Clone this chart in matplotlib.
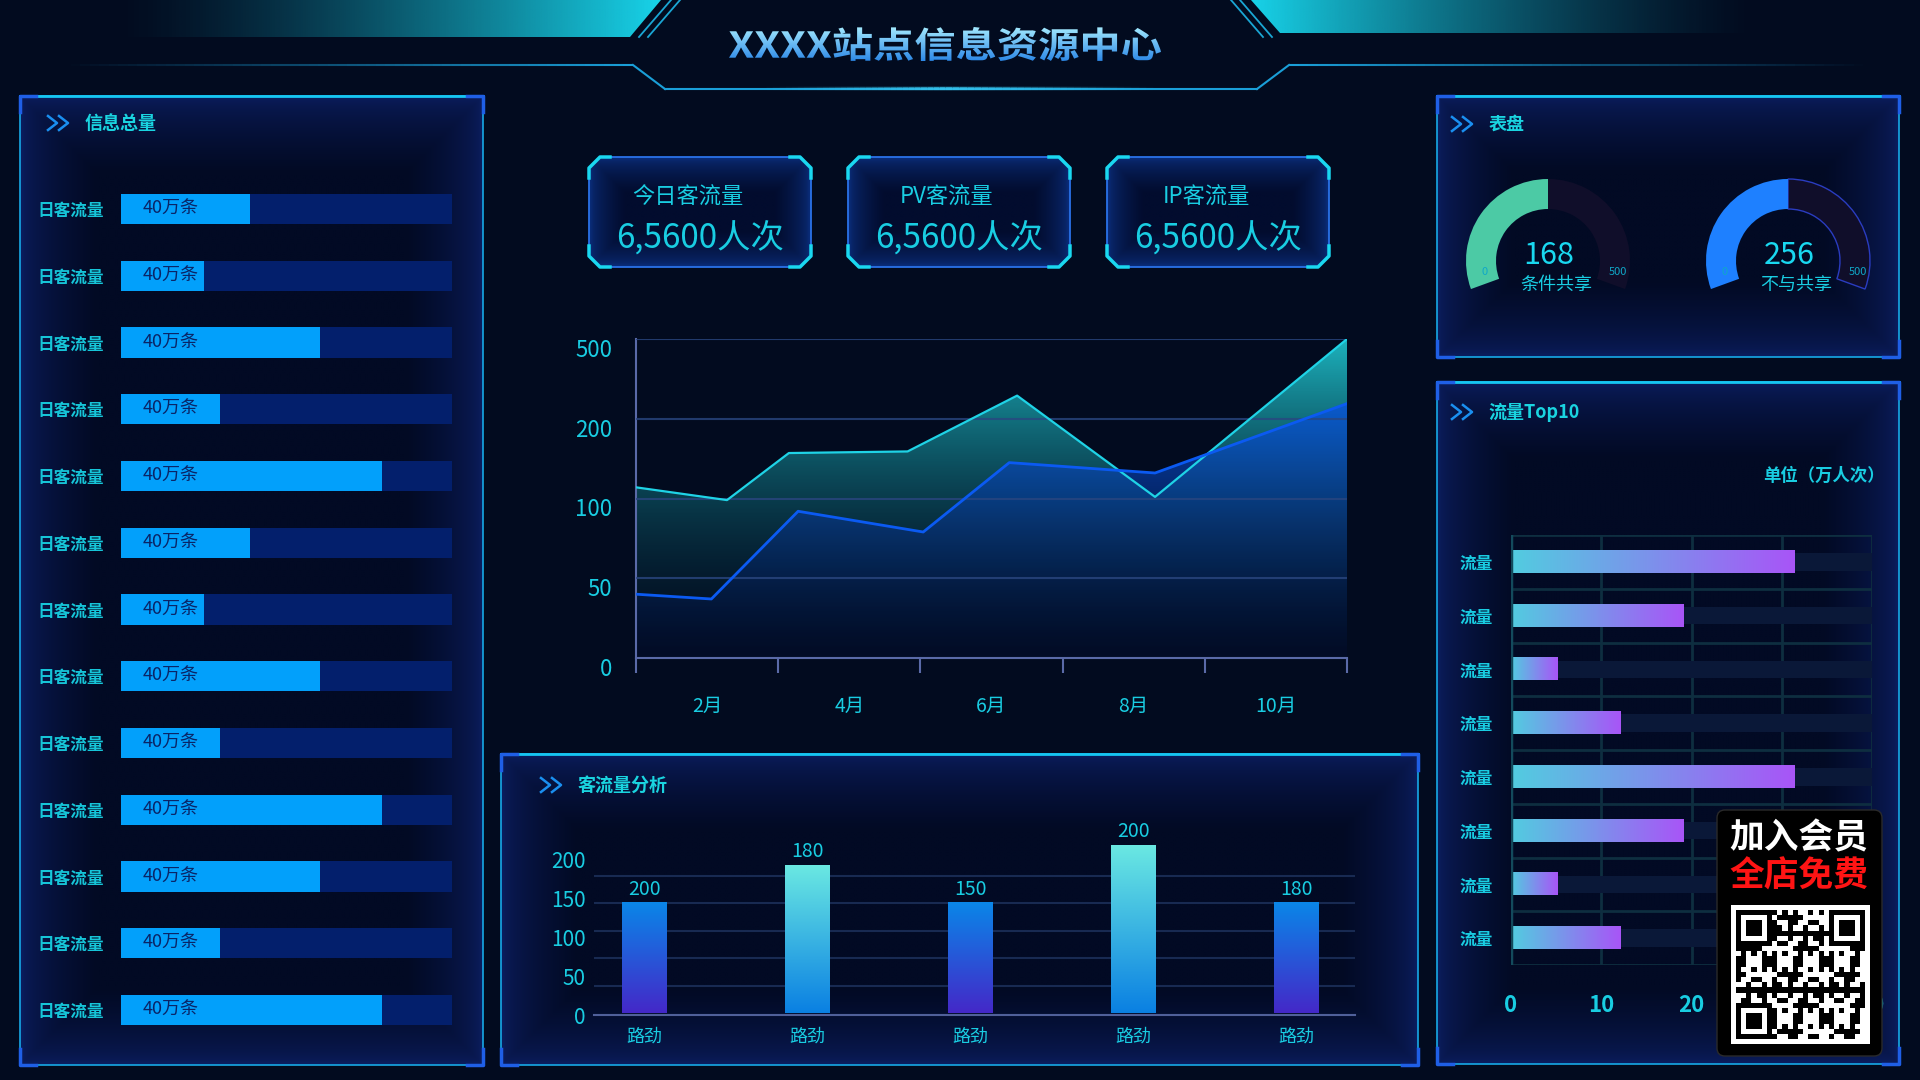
import numpy as np
import matplotlib
matplotlib.use('Agg')
import matplotlib.pyplot as plt
from matplotlib.patches import Polygon, Wedge, Rectangle, FancyBboxPatch, PathPatch
from matplotlib.collections import LineCollection
from matplotlib.colors import to_rgb, LinearSegmentedColormap
from matplotlib.textpath import TextPath
from matplotlib.font_manager import FontProperties
from matplotlib.transforms import Affine2D, ScaledTranslation

plt.rcParams['font.family'] = ['Noto Sans CJK SC', 'DejaVu Sans']

W, H = 1920, 1080
BG = '#020b1f'
TXT = '#19cde2'

# ---- data ----
title = 'XXXX站点信息资源中心'

left_labels = ['日客流量'] * 13
left_pct = [39, 25, 60, 30, 79, 39, 25, 60, 30, 79, 60, 30, 79]
left_max = 100
left_text = '40万条'

kpi_titles = ['今日客流量', 'PV客流量', 'IP客流量']
kpi_values = ['6,5600人次', '6,5600人次', '6,5600人次']

months_a = [1.0, 2.28, 3.15, 4.82, 6.36, 8.30, 11.0]
flow_a = [114, 99, 157, 159, 287, 102, 500]
months_b = [1.0, 2.06, 3.28, 5.04, 6.25, 8.30, 11.0]
flow_b = [40, 37, 92, 79, 145, 132, 257]
month_pos = [2, 4, 6, 8, 10]
month_labels = ['2月', '4月', '6月', '8月', '10月']
y_levels = [0, 50, 100, 200, 500]

bar_cats = ['路劲'] * 5
bar_heights = [200, 268, 200, 304, 200]
bar_labels = [200, 180, 150, 200, 180]
bar_tick_pos = [-3, 67, 138, 209, 279]
bar_tick_labels = ['0', '50', '100', '150', '200']

gauge_values = [168, 256]
gauge_names = ['条件共享', '不与共享']
gauge_fill = [0.5, 0.5]
gauge_max = 500

top_labels = ['流量'] * 8
top_values = [31.4, 19.1, 5.2, 12.1, 31.4, 19.1, 5.2, 12.1]
top_max = 40


def frac(x0, y0, x1, y1):
    return [x0 / W, 1 - y1 / H, (x1 - x0) / W, (y1 - y0) / H]


fig = plt.figure(figsize=(19.2, 10.8), dpi=100, facecolor=BG)
bg = fig.add_axes([0, 0, 1, 1])
bg.set_xlim(0, W)
bg.set_ylim(H, 0)
bg.set_autoscale_on(False)
bg.axis('off')


def glow(x0, y0, x1, y1, edge, centre, depth=60, clip=None, z=1):
    xs = np.linspace(x0, x1, int((x1 - x0) / 3) + 2)
    ys = np.linspace(y0, y1, int((y1 - y0) / 3) + 2)
    X, Y = np.meshgrid(xs, ys)
    d = np.minimum.reduce([X - x0, x1 - X, Y - y0, y1 - Y])
    t = (np.clip(d / depth, 0, 1) ** 0.6)[..., None]
    img = np.array(to_rgb(edge)) * (1 - t) + np.array(to_rgb(centre)) * t
    im = bg.imshow(img, extent=(x0, x1, y1, y0), origin='upper', aspect='auto',
                   interpolation='bilinear', zorder=z)
    if clip is not None:
        im.set_clip_path(clip)


def chevrons(x, y):
    for k in range(2):
        xs = x + k * 11
        bg.plot([xs, xs + 9, xs], [y - 7, y, y + 7], color='#1a8ff0', lw=1.8, zorder=5)


def panel(x0, y0, x1, y1, name, cx, tx, ty):
    glow(x0, y0, x1, y1, '#0b1d5e', '#020a24', depth=75)
    bg.add_patch(Rectangle((x0, y0), x1 - x0, y1 - y0, fill=False, ec='#17a9e6', lw=1.2, zorder=3))
    bg.plot([x0, x1], [y0, y0], color='#16c6f2', lw=2, zorder=3)
    for px, py, sx, sy in [(x0, y0, 1, 1), (x1, y0, -1, 1), (x0, y1, 1, -1), (x1, y1, -1, -1)]:
        bg.plot([px + sx * 16, px, px], [py, py, py + sy * 16], color='#1f5fe6', lw=2.5, zorder=4)
    chevrons(cx, ty)
    bg.text(tx, ty, name, color='#1ad4e0', fontsize=13, fontweight='bold', va='center', zorder=6)


def fade_line(x0, y0, x1, y1, a0, a1, color='#1a9fd8', lw=1.5, n=60):
    xs = np.linspace(x0, x1, n + 1)
    ys = np.linspace(y0, y1, n + 1)
    segs = [[(xs[k], ys[k]), (xs[k + 1], ys[k + 1])] for k in range(n)]
    rgb = to_rgb(color)
    cols = [(*rgb, a) for a in np.linspace(a0, a1, n)]
    bg.add_collection(LineCollection(segs, colors=cols, linewidths=lw, zorder=3))


# ---- header ----
xs = np.linspace(0, 1, 400)
band = np.zeros((2, 400, 4))
band[..., :3] = to_rgb('#18d4ea')
band[..., 3] = np.clip((xs * 670 - 110) / 550, 0, 1) ** 1.4
lb = Polygon([(0, 0), (661, 0), (630, 37), (0, 37)], closed=True, fc='none', ec='none',
             transform=bg.transData)
bg.add_patch(lb)
im = bg.imshow(band, extent=(0, 670, 37, 0), aspect='auto', zorder=2)
im.set_clip_path(lb)
band2 = np.zeros((2, 400, 4))
band2[..., :3] = to_rgb('#18d4ea')
band2[..., 3] = np.clip((1760 - (1250 + xs * 670)) / 510, 0, 1) ** 1.4
rb = Polygon([(1251, 0), (1920, 0), (1920, 33), (1280, 33)], closed=True, fc='none', ec='none',
             transform=bg.transData)
bg.add_patch(rb)
im = bg.imshow(band2, extent=(1250, 1920, 33, 0), aspect='auto', zorder=2)
im.set_clip_path(rb)
for a, b in [(671, 639), (680, 648)]:
    bg.plot([a, b], [0, 37], color='#1aa6d4', lw=1.3, zorder=3)
for a, b in [(1231, 1263), (1240, 1272)]:
    bg.plot([a, b], [0, 37], color='#1aa6d4', lw=1.3, zorder=3)
fade_line(61, 65, 633, 65, 0, 1)
bg.plot([633, 665], [65, 89], color='#1a9fd8', lw=1.5, zorder=3)
bg.plot([665, 1257], [89, 89], color='#1a9fd8', lw=1.5, zorder=3)
fade_line(760, 88, 945, 88, 0, 0.8, color='#39c8f0', lw=2.5, n=30)
fade_line(945, 88, 1160, 88, 0.8, 0, color='#39c8f0', lw=2.5, n=30)
bg.plot([1257, 1289], [89, 65], color='#1a9fd8', lw=1.5, zorder=3)
fade_line(1289, 65, 1873, 65, 1, 0)

fp = FontProperties(family='Noto Sans CJK SC', weight='bold')
tp = TextPath((0, 0), title, size=40, prop=fp)
bb = tp.get_extents()
tr = (Affine2D().translate(-bb.x0 - bb.width / 2, -bb.y0 - bb.height / 2)
      .scale(432 / bb.width, -34 / bb.height).translate(945, 44))
tpatch = PathPatch(tr.transform_path(tp), fc='none', ec='none', transform=bg.transData)
bg.add_patch(tpatch)
tg = np.zeros((60, 2, 3))
tg[:] = (np.linspace(0, 1, 60)[:, None, None] * np.array(to_rgb('#2a86e6'))
         + (1 - np.linspace(0, 1, 60))[:, None, None] * np.array(to_rgb('#a6ecff')))
im = bg.imshow(tg, extent=(720, 1170, 62, 26), aspect='auto', zorder=6, interpolation='bilinear')
im.set_clip_path(tpatch)

# ---- panels ----
panel(20, 96, 483, 1065, '信息总量', 48, 85, 123)
panel(1437, 96, 1899, 357, '表盘', 1452, 1489, 124)
panel(1437, 382, 1899, 1064, '流量Top10', 1452, 1488, 412)
panel(501, 754, 1418, 1065, '客流量分析', 541, 578, 785)

# ---- left bars ----
axL = fig.add_axes(frac(121, 175.6, 452, 1043.4))
axL.set_facecolor('none')
rows = np.arange(len(left_pct))
axL.barh(rows, [left_max] * len(rows), height=0.45, color='#031f6c')
axL.barh(rows, left_pct, height=0.45, color='#02a0fb')
for r in rows:
    axL.text(6.6, r, left_text, va='center', ha='left', color='#0a2466', fontsize=13)
axL.set_xlim(0, left_max)
axL.set_ylim(len(rows) - 0.5, -0.5)
axL.set_yticks(rows, left_labels, fontweight='bold')
axL.set_xticks([])
axL.tick_params(axis='y', length=0, pad=12, labelsize=12, labelcolor='#16c5d8')
for s in axL.spines.values():
    s.set_visible(False)

# ---- KPI boxes ----
for k, x0 in enumerate([589, 848, 1107]):
    x1, y0, y1, c = x0 + 222, 157, 267, 11
    pts = [(x0 + c, y0), (x1 - c, y0), (x1, y0 + c), (x1, y1 - c), (x1 - c, y1),
           (x0 + c, y1), (x0, y1 - c), (x0, y0 + c)]
    poly = Polygon(pts, closed=True, fc='none', ec='#2a72e8', lw=1.3, zorder=4, transform=bg.transData)
    bg.add_patch(poly)
    glow(x0, y0, x1, y1, '#0a2c78', '#020c2e', depth=35, clip=poly, z=2)
    for px, py, sx, sy in [(x0, y0, 1, 1), (x1, y0, -1, 1), (x0, y1, 1, -1), (x1, y1, -1, -1)]:
        bg.plot([px, px, px + sx * c, px + sx * (c + 10)],
                [py + sy * (c + 10), py + sy * c, py, py], color='#1ad8f0', lw=2.5, zorder=5)
    cx = (x0 + x1) / 2
    bg.text(cx - 12, 197, kpi_titles[k], color=TXT, fontsize=16, ha='center', va='center', zorder=6)
    bg.text(cx, 238, kpi_values[k], color=TXT, fontsize=24, ha='center', va='center', zorder=6)

# ---- area chart ----
axC = fig.add_axes(frac(636, 339, 1347, 658))
axC.set_facecolor('none')
idx = np.arange(len(y_levels))
axC.set_yscale('function', functions=(lambda v: np.interp(v, y_levels, idx),
                                      lambda i: np.interp(i, idx, y_levels)))


def grad_area(ax, xs, ys, top, bot, z):
    poly = Polygon(list(zip(xs, ys)) + [(xs[-1], 0), (xs[0], 0)], closed=True,
                   fc='none', ec='none', transform=ax.transData)
    ax.add_patch(poly)
    g = np.linspace(0, 1, 256)[:, None, None]
    img = np.array(top)[None, None, :] * (1 - g) + np.array(bot)[None, None, :] * g
    im = ax.imshow(img, extent=(0, 1, 0, 1), transform=ax.transAxes, aspect='auto',
                   origin='upper', zorder=z, interpolation='bilinear')
    im.set_clip_path(poly)


grad_area(axC, months_a, flow_a, (0.12, 0.74, 0.78, 0.95), (0.02, 0.16, 0.22, 0.0), 1)
grad_area(axC, months_b, flow_b, (0.04, 0.39, 1.0, 1.0), (0.02, 0.08, 0.3, 0.15), 2)
axC.plot(months_a, flow_a, color='#1fd3e6', lw=1.6, zorder=4)
axC.plot(months_b, flow_b, color='#0b5af2', lw=2, zorder=4)
for v in y_levels[1:]:
    axC.axhline(v, color='#2a4680', lw=1.5, alpha=0.8, zorder=3)
axC.set_xlim(1, 11)
axC.set_ylim(0, 500)
axC.set_yticks(y_levels, [str(v) for v in y_levels])
axC.set_xticks([1, 3, 5, 7, 9, 11], [''] * 6)
axC.set_xticks(month_pos, month_labels, minor=True)
axC.tick_params(axis='x', which='major', length=11, width=1.5, color='#5a6aa8')
axC.tick_params(axis='x', which='minor', length=0, pad=27, labelsize=14, labelcolor=TXT)
axC.tick_params(axis='y', length=0, pad=17, labelsize=16, labelcolor=TXT)
for t in axC.yaxis.get_major_ticks():
    t.label1.set_transform(t.label1.get_transform() + ScaledTranslation(0, -0.09, fig.dpi_scale_trans))
for s in ['top', 'right']:
    axC.spines[s].set_visible(False)
for s in ['left', 'bottom']:
    axC.spines[s].set_color('#5a6aa8')
    axC.spines[s].set_linewidth(1.5)

# ---- bottom bars ----
axB = fig.add_axes(frac(594, 848, 1355, 1015))
axB.set_facecolor('none')
xb = np.arange(len(bar_heights))
bw = 0.274
styles = [('#0a86e8', '#4428c8'), ('#6ae8e2', '#0a80e2')]
for i, h in enumerate(bar_heights):
    top, bot = styles[i % 2]
    g = np.linspace(0, 1, 128)[:, None, None]
    img = np.array(to_rgb(top))[None, None, :] * (1 - g) + np.array(to_rgb(bot))[None, None, :] * g
    axB.imshow(img, extent=(i - bw / 2, i + bw / 2, 0, h), origin='upper', aspect='auto',
               zorder=3, interpolation='bilinear', clip_on=False)
    axB.annotate(str(bar_labels[i]), (i, h), xytext=(0, 10), textcoords='offset points',
                 ha='center', va='center', color=TXT, fontsize=14, annotation_clip=False)
for v in [50, 100, 150, 200, 250]:
    axB.axhline(v, color='#182a52', lw=1.5, zorder=1)
axB.set_xlim(-0.307, 4.36)
axB.set_ylim(0, 300)
axB.set_yticks(bar_tick_pos, bar_tick_labels)
axB.set_xticks(xb, bar_cats)
axB.tick_params(axis='y', length=0, pad=6, labelsize=15, labelcolor=TXT)
axB.tick_params(axis='x', length=0, pad=9, labelsize=13, labelcolor=TXT)
for s in ['top', 'right', 'left']:
    axB.spines[s].set_visible(False)
axB.spines['bottom'].set_color('#50609a')
axB.spines['bottom'].set_linewidth(1.5)

# ---- gauges ----
gcols = ['#4ccaa5', '#1e80ff']
for k, cx in enumerate([1548, 1788]):
    cy, r = 261, 82
    split = -200 + 220 * gauge_fill[k]
    bg.add_patch(Wedge((cx, cy), r, split, 20, width=30, fc='#100e2a',
                       ec='#2a3cc0' if k == 1 else 'none', lw=1, zorder=4))
    bg.add_patch(Wedge((cx, cy), r, -200, split, width=30, fc=gcols[k], zorder=5))
    bg.text(cx + 1, 256, str(gauge_values[k]), color='#19d8f0', fontsize=22, ha='center', va='center', zorder=6)
    bg.text(cx + 8, 285, gauge_names[k], color=TXT, fontsize=13, ha='center', va='center', zorder=6)
    bg.text(cx - 63, 272, '0', color='#0fa8c8', fontsize=8, ha='center', va='center', zorder=6)
    bg.text(cx + 70, 272, str(gauge_max), color='#0fa8c8', fontsize=8, ha='center', va='center', zorder=6)

# ---- top10 ----
bg.text(1885, 476, '单位（万人次）', color=TXT, fontsize=12.5, fontweight='bold', ha='right', va='center', zorder=6)
axT = fig.add_axes(frac(1511, 535, 1872, 965))
axT.set_facecolor('none')
rt = np.arange(len(top_values))
axT.barh(rt, [top_max] * len(rt), height=0.33, color='#0a1838', zorder=2)
cmap = LinearSegmentedColormap.from_list('tg', ['#52cce0', '#a855f7'])
for i, v in enumerate(top_values):
    axT.imshow(np.linspace(0, 1, 128)[None, :], cmap=cmap, extent=(0, v, i + 0.205, i - 0.205),
               aspect='auto', zorder=3, interpolation='bilinear')
for y in np.arange(-0.5, len(rt), 1):
    axT.axhline(y, color='#0e2e40', lw=2, zorder=1)
for x in [10, 20, 30, 40]:
    axT.axvline(x, color='#0e2e40', lw=2, zorder=1)
axT.axvline(0, color='#134a5c', lw=2.5, zorder=4)
axT.set_xlim(0, top_max)
axT.set_ylim(len(rt) - 0.5, -0.5)
axT.set_xticks([0, 10, 20, 30, 40])
axT.set_yticks(rt, top_labels)
axT.tick_params(axis='x', length=0, pad=21, labelsize=16, labelcolor=TXT)
axT.tick_params(axis='y', length=0, pad=13, labelsize=12, labelcolor=TXT)
for lab in axT.get_xticklabels() + axT.get_yticklabels():
    lab.set_fontweight('bold')
for s in axT.spines.values():
    s.set_visible(False)

# ---- member badge overlay ----
ov = fig.add_axes([0, 0, 1, 1], zorder=30)
ov.set_xlim(0, W)
ov.set_ylim(H, 0)
ov.set_autoscale_on(False)
ov.axis('off')
ov.add_patch(FancyBboxPatch((1725, 818), 149, 230, boxstyle='round,pad=8', fc='black', ec='#2a2a2a', lw=1))
ov.text(1799, 838, '加入会员', color='white', fontsize=25, fontweight='bold', ha='center', va='center')
ov.text(1799, 876, '全店免费', color='#ff1414', fontsize=25, fontweight='bold', ha='center', va='center')
ov.add_patch(Rectangle((1731, 905), 139, 139, fc='white', ec='none'))
n = 25
ii, jj = np.meshgrid(np.arange(n), np.arange(n), indexing='ij')
qr = ((ii * ii * 3 + jj * 5 + ii * jj * 7) % 11) < 5
for fi, fj in [(0, 0), (0, n - 7), (n - 7, 0)]:
    blk = np.zeros((7, 7), bool)
    blk[0, :] = blk[-1, :] = blk[:, 0] = blk[:, -1] = True
    blk[2:5, 2:5] = True
    qr[fi:fi + 7, fj:fj + 7] = blk
ov.imshow(np.where(qr, 0.0, 1.0), cmap='gray', vmin=0, vmax=1, extent=(1736, 1865, 1039, 910),
          interpolation='nearest', aspect='auto', zorder=31)

fig.savefig('out.png', dpi=100, facecolor=BG)
